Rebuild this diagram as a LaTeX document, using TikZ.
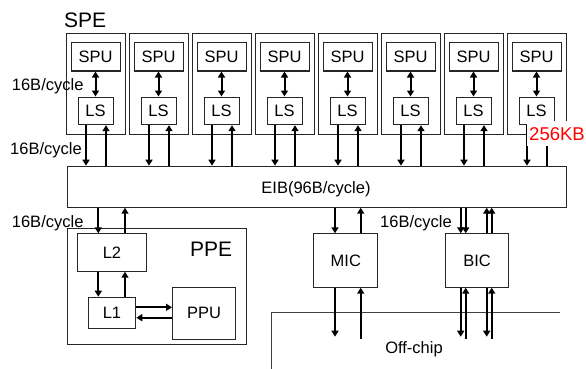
\documentclass[tikz,border=0pt]{standalone}
\usepackage{fontspec}
\setmainfont{Liberation Sans}
\usetikzlibrary{arrows.meta}
\begin{document}
\begin{tikzpicture}[x=1pt,y=-1pt,
  every node/.style={font=\fontsize{16.5}{19}\selectfont, inner sep=0pt},
  box/.style={draw=black!85, line width=1pt, rectangle},
  arr/.style={line width=2pt, -{Triangle[length=6pt,width=7pt]}},
  biarr/.style={line width=2pt, {Triangle[length=6pt,width=7pt]}-{Triangle[length=6pt,width=7pt]}},
  thinline/.style={line width=1pt, draw=black!75},
  lbl/.style={anchor=base west}]
\useasboundingbox (0,0) rectangle (586,369);
% EIB
\node[box, minimum width=499.3pt, minimum height=41pt, anchor=north west] (eib) at (66.7,165.7) {};
\node[anchor=base] (eibt) at (316,193.3) {EIB(96B/cycle)};
% SPEs
\foreach \i in {1,...,8} {
  \pgfmathsetmacro\xo{66+63*(\i-1)}
  \node[box, minimum width=59pt, minimum height=101pt, anchor=north west] (spe\i) at (\xo,33) {};
  \node[box, minimum width=49pt, minimum height=28pt] (spu\i) at (\xo+29.5,57) {SPU};
  \node[box, minimum width=35pt, minimum height=27.7pt] (ls\i) at (\xo+29.5,110.85) {LS};
  \draw[biarr] (spu\i) -- (ls\i);
  \coordinate (d\i) at ([xshift=-9.5pt]ls\i.south);
  \coordinate (u\i) at ([xshift=10.5pt]ls\i.south);
  \draw[arr] (d\i) -- (d\i |- eib.north);
  \draw[arr] (u\i |- eib.north) -- (u\i);
}
\node[anchor=base west, font=\fontsize{21}{24}\selectfont] (spet) at (64,27.3) {SPE};
\node[lbl] (c1) at (11.7,90.7) {16B/cycle};
\node[lbl] (c2) at (10,154.3) {16B/cycle};
\node[lbl] (c3) at (11.7,227.3) {16B/cycle};
\node[lbl] (c4) at (380,227.3) {16B/cycle};
\node[fill=white, text=red, font=\fontsize{18.5}{21}\selectfont, minimum width=60pt, minimum height=25pt] (kb) at (557,133.8) {256KB};
% PPE
\node[box, minimum width=179pt, minimum height=115.7pt, anchor=north west] (ppe) at (66.7,228.3) {};
\node[anchor=base west, font=\fontsize{21}{24}\selectfont] (ppet) at (190,256.7) {PPE};
\node[box, minimum width=68.4pt, minimum height=37.4pt, anchor=north west] (l2) at (77.3,233.3) {L2};
\node[box, minimum width=47.6pt, minimum height=31.3pt, anchor=north west] (l1) at (87.7,296.7) {L1};
\node[box, minimum width=63pt, minimum height=52.3pt, anchor=north west] (ppu) at (172,286.7) {PPU};
\coordinate (ld) at (98.3,0);
\coordinate (lu) at (125,0);
\draw[arr] (ld |- eib.south) -- (ld |- l2.north);
\draw[arr] (lu |- l2.north) -- (lu |- eib.south);
\draw[arr] (ld |- l2.south) -- (ld |- l1.north);
\draw[arr] (lu |- l1.north) -- (lu |- l2.south);
\coordinate (pr) at (0,307.3);
\coordinate (pl) at (0,317.7);
\draw[arr] (l1.east |- pr) -- (ppu.west |- pr);
\draw[arr] (ppu.west |- pl) -- (l1.east |- pl);
% MIC, BIC
\node[box, minimum width=64pt, minimum height=53.4pt, anchor=north west] (mic) at (313.3,233.3) {MIC};
\node[box, minimum width=63.3pt, minimum height=53.4pt, anchor=north west] (bic) at (445,233.3) {BIC};
% off-chip boundary
\coordinate (oc1) at (271.7,369);
\coordinate (oc2) at (271.7,312.5);
\coordinate (oc3) at (560,312.5);
\draw[thinline] (oc1) -- (oc2) -- (oc3);
\node[anchor=base] (offt) at (414,353.3) {Off-chip};
\coordinate (bot) at (0,336.7);
\coordinate (bot2) at (0,339);
% MIC arrows
\coordinate (md) at (335,0);
\coordinate (mu) at (360.7,0);
\draw[arr] (md |- eib.south) -- (md |- mic.north);
\draw[arr] (mu |- mic.north) -- (mu |- eib.south);
\draw[arr] (md |- mic.south) -- (md |- bot);
\draw[arr] (mu |- bot2) -- (mu |- mic.south);
% BIC arrows
\foreach \xx/\n in {460.7/a,465.7/b,486.7/c,491.7/d} {\coordinate (b\n) at (\xx,0);}
\draw[arr] (ba |- eib.south) -- (ba |- bic.north);
\draw[arr] (bb |- eib.south) -- (bb |- bic.north);
\draw[arr] (bc |- bic.north) -- (bc |- eib.south);
\draw[arr] (bd |- bic.north) -- (bd |- eib.south);
\draw[arr] (ba |- bic.south) -- (ba |- bot);
\draw[arr] (bb |- bot2) -- (bb |- bic.south);
\draw[arr] (bc |- bic.south) -- (bc |- bot);
\draw[arr] (bd |- bot2) -- (bd |- bic.south);
\end{tikzpicture}
\end{document}
